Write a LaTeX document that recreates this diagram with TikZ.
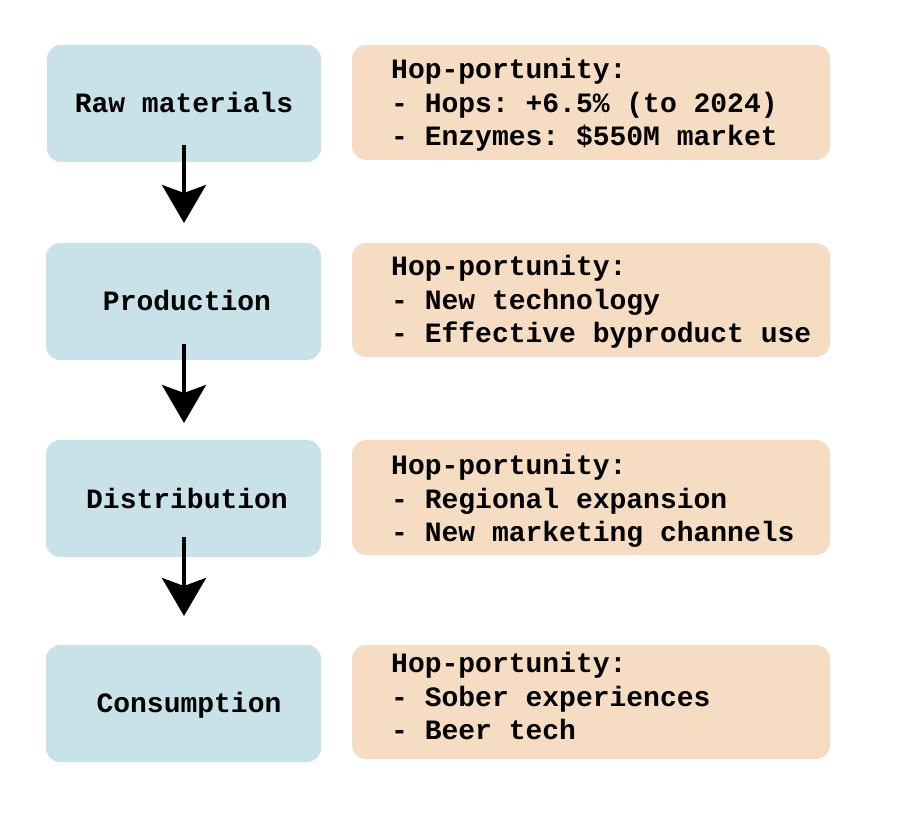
\documentclass[tikz,border=0pt]{standalone}
\usepackage{fontspec}
\setmonofont{Liberation Mono}
\usetikzlibrary{arrows.meta}
\definecolor{stageblue}{RGB}{201,226,234}
\definecolor{oppbeige}{RGB}{245,220,195}
\tikzset{
  stagebox/.style={fill=stageblue, rounded corners=14pt},
  oppbox/.style={fill=oppbeige, rounded corners=14pt},
  stagetext/.style={font=\ttfamily\bfseries\fontsize{28}{33.5}\selectfont, anchor=base, inner sep=0pt},
  opptext/.style={font=\ttfamily\bfseries\fontsize{28}{33.5}\selectfont, anchor=north west, align=left, inner sep=0pt},
  flow/.style={line width=4pt, -{Stealth[length=38pt, width=44pt, inset=8pt]}}
}
\begin{document}
\begin{tikzpicture}[x=1pt,y=-1pt]
\useasboundingbox (0,0) rectangle (898,826);
% stage boxes
\fill[stagebox] (47,45) rectangle (321,162);
\fill[stagebox] (46,243) rectangle (321,360);
\fill[stagebox] (46,440) rectangle (321,557);
\fill[stagebox] (46,645) rectangle (321,762);
% opportunity boxes
\fill[oppbox] (352,45) rectangle (830,160);
\fill[oppbox] (352,243) rectangle (830,357);
\fill[oppbox] (352,440) rectangle (830,555);
\fill[oppbox] (352,645) rectangle (830,759);
% stage labels
\node[stagetext] (s1) at (184,113) {Raw materials};
\node[stagetext] (s2) at (187,311) {Production};
\node[stagetext] (s3) at (187,509) {Distribution};
\node[stagetext] (s4) at (189,712) {Consumption};
% opportunity texts
\node[opptext] (o1) at (391,55) {\strut Hop-portunity:\\\strut- Hops: +6.5\% (to 2024)\\\strut- Enzymes: \$550M market};
\node[opptext] (o2) at (391,252) {\strut Hop-portunity:\\\strut- New technology\\\strut- Effective byproduct use};
\node[opptext] (o3) at (391,451) {\strut Hop-portunity:\\\strut- Regional expansion\\\strut- New marketing channels};
\node[opptext] (o4) at (391,649) {\strut Hop-portunity:\\\strut- Sober experiences\\\strut- Beer tech};
% arrows
\coordinate (a1s) at (184,145); \coordinate (a1e) at (184,223);
\coordinate (a2s) at (184,344); \coordinate (a2e) at (184,423);
\coordinate (a3s) at (184,537); \coordinate (a3e) at (184,616);
\draw[flow] (a1s) -- (a1e);
\draw[flow] (a2s) -- (a2e);
\draw[flow] (a3s) -- (a3e);
\end{tikzpicture}
\end{document}
